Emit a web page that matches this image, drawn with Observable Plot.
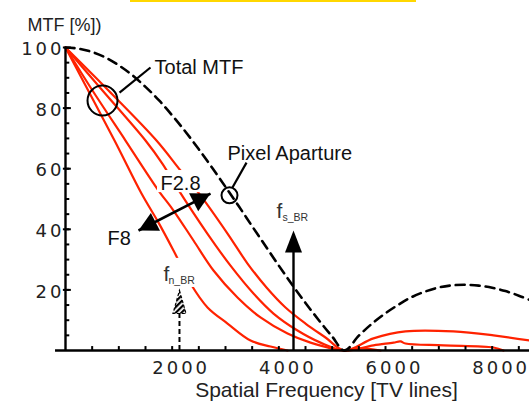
<!DOCTYPE html>
<html><head><meta charset="utf-8">
<script src="https://cdn.jsdelivr.net/npm/d3@7"></script>
<script src="https://cdn.jsdelivr.net/npm/@observablehq/plot@0.6"></script>
<style>
body{margin:0;background:#fff;}
#wrap{position:relative;width:529px;height:402px;overflow:hidden;}
#bar{position:absolute;left:130px;top:0;width:286px;height:2px;background:#ffd700;z-index:2;}
</style></head><body>
<div id="wrap"><div id="bar"></div><div id="chart"></div></div>
<script>
// Pixel aperture (dashed) MTF, %
const apFreq = [0,250,500,750,1000,1250,1500,1750,2000,2250,2500,2750,3000,3250,3500,3750,4000,4250,4500,4750,5000,5230,5500,5750,6000,6250,6500,6750,7000,7250,7500,7750,8000,8250,8500,8700];
const apMtf  = [100,99.6,98.5,96.7,94.1,90.9,87.0,82.6,77.6,72.2,66.4,60.3,54.0,47.6,41.0,34.5,28.0,21.7,15.7,10.0,4.6,0,4.9,8.9,12.3,15.2,17.7,19.5,20.8,21.5,21.7,21.4,20.7,19.6,18.1,16.7];

// Total MTF curves (red), one array pair per F-number
const seriesNames = ["F8","F5.6","F4","F2.8"];
const freqF8  = [0,919,1425,1744,2025,2344,2663,3038,3469,3844,4163];
const mtfF8   = [100,69.3,51.8,42.2,33.0,22.1,14.2,8.9,3.3,1.3,0];
const freqF56 = [0,506,1125,1744,2025,2400,2775,3225,3656,4163,4594,5231,5531,5906];
const mtfF56  = [100,85.8,69.3,52.8,46.2,36.3,26.4,17.5,10.9,5.6,2.6,0,0.7,0];
const freqF4  = [0,694,1500,1819,2100,2663,3094,3525,3900,4350,4781,5231,5775,6150,6281,6375,7088,8025,8213];
const mtfF4   = [100,85.8,69.3,61.6,53.5,38.5,28.0,18.8,12.2,6.6,2.6,0,1.7,2.6,3.0,2.3,1.7,1.0,0];
const freqF28 = [0,806,1706,2156,2531,3038,3413,3769,4125,4500,4875,5231,5775,6375,7275,8025,8700];
const mtfF28  = [100,85.8,69.3,59.4,51.2,38.6,28.7,20.8,14.2,8.9,4.3,0,4.0,6.3,6.3,5.0,3.3];

// Axis ticks
const xMajor = [2000,4000,6000,8000];
const xMinor = d3.range(500, 8700, 500);
const yMajor = [20,40,60,80,100];
const yMinor = d3.range(5, 100, 5);

// Annotations (data coordinates)
const noteText = ["Total MTF","Pixel Aparture","F2.8","F8"];
const noteFreq = [1669,3038,1781,788];
const noteMtf  = [91.1,63.0,53.1,34.7];
const circleFreq = [694,3075];
const circleMtf  = [82.5,51.2];
const circleR    = [15,8];
const calloutFreq1 = [1013,3131];
const calloutMtf1  = [85.1,53.8];
const calloutFreq2 = [1594,3394];
const calloutMtf2  = [93.4,62.0];
const boxF1 = [1725,731,1763];
const boxF2 = [2625,1294,2456];
const boxM1 = [52.1,33.0,20.8];
const boxM2 = [59.4,39.9,30.4];
const dblTipFreq = [1369,2719];
const dblTipMtf  = [39.6,51.8];
const dblRotate  = [-117.2,62.8];
const fsFreq = 4275, fsTip = 39.6;
const fnFreq = 2137, fnTip = 19.8, fnBase = 12.2;

const rows = [];
const src = [[freqF8,mtfF8],[freqF56,mtfF56],[freqF4,mtfF4],[freqF28,mtfF28]];
src.forEach(([fs,ms],i)=>fs.forEach((f,j)=>rows.push({s:seriesNames[i],f,m:ms[j]})));
const apRows = apFreq.map((f,i)=>({f,m:apMtf[i]}));
const notes = noteText.map((t,i)=>({t,f:noteFreq[i],m:noteMtf[i]}));
const circles = circleFreq.map((f,i)=>({f,m:circleMtf[i],r:circleR[i]}));
const callouts = calloutFreq1.map((f,i)=>({f1:f,m1:calloutMtf1[i],f2:calloutFreq2[i],m2:calloutMtf2[i]}));
const boxes = boxF1.map((f,i)=>({f1:f,f2:boxF2[i],m1:boxM1[i],m2:boxM2[i]}));
const dblHeads = dblTipFreq.map((f,i)=>({f,m:dblTipMtf[i],rot:dblRotate[i]}));

const head = (L,W)=>({draw(ctx){ctx.moveTo(0,0);ctx.lineTo(W,L);ctx.lineTo(-W,L);ctx.closePath();}});
const FONT = "Liberation Sans, Arial, Helvetica, sans-serif";
const TICKFONT = "DejaVu Sans, Verdana, sans-serif";
const RED = "#ff2200";

const chart = Plot.plot({
  width:529, height:402,
  marginTop:47, marginRight:0, marginBottom:52, marginLeft:65,
  x:{domain:[0,8700], axis:null},
  y:{domain:[0,100], axis:null},
  r:{type:"identity"},
  style:{fontFamily:FONT, background:"transparent", color:"#111", overflow:"visible"},
  marks:[
    Plot.line(rows,{x:"f",y:"m",z:"s",stroke:RED,strokeWidth:2.2,curve:"catmull-rom"}),
    Plot.line(apRows,{x:"f",y:"m",stroke:"black",strokeWidth:2.6,strokeDasharray:"9,6",curve:"catmull-rom"}),
    // axes
    Plot.ruleY([0],{x1:-187,x2:8700,stroke:"black",strokeWidth:2.4}),
    Plot.ruleX([0],{y1:0,y2:100,stroke:"black",strokeWidth:2.4}),
    Plot.ruleY(yMinor,{y:d=>d,x1:0,x2:80,stroke:"black",strokeWidth:2}),
    Plot.ruleY(yMajor,{y:d=>d,x1:-40,x2:110,stroke:"black",strokeWidth:2}),
    Plot.ruleX(xMinor,{x:d=>d,y1:0,y2:1.3,stroke:"black",strokeWidth:2}),
    // fs arrow
    Plot.ruleX([fsFreq],{x:d=>d,y1:0,y2:fsTip-5,stroke:"black",strokeWidth:2.4}),
    Plot.dot([fsFreq],{x:d=>d,y:()=>fsTip,symbol:head(22,8.5),fill:"black",stroke:"none"}),
    // fn arrow
    Plot.ruleX([fnFreq],{x:d=>d,y1:0,y2:fnBase,stroke:"black",strokeWidth:2,strokeDasharray:"5,3"}),
    Plot.dot([fnFreq],{x:d=>d,y:()=>fnTip,symbol:head(23,6.5),fill:"url(#hatch)",stroke:"black",strokeWidth:1.2,strokeDasharray:"3,2"}),
    // double arrow
    Plot.link([0],{x1:()=>dblTipFreq[0],y1:()=>dblTipMtf[0],x2:()=>dblTipFreq[1],y2:()=>dblTipMtf[1],stroke:"black",strokeWidth:2.6}),
    Plot.dot(dblHeads,{x:"f",y:"m",rotate:"rot",symbol:head(19,10),fill:"black",stroke:"none"}),
    // label boxes
    Plot.rect(boxes,{x1:"f1",x2:"f2",y1:"m1",y2:"m2",fill:"white"}),
    // callouts
    Plot.dot(circles,{x:"f",y:"m",r:"r",stroke:"black",strokeWidth:2,fill:"none"}),
    Plot.link(callouts,{x1:"f1",y1:"m1",x2:"f2",y2:"m2",stroke:"black",strokeWidth:2.2}),
    Plot.text(notes,{x:"f",y:"m",text:"t",textAnchor:"start",lineAnchor:"bottom",fontSize:20}),
    // f_s_BR and f_n_BR labels
    Plot.text(["f"],{x:()=>3956,y:()=>43.6,text:d=>d,textAnchor:"start",lineAnchor:"bottom",fontSize:21,fill:"#333"}),
    Plot.text(["s_BR"],{x:()=>4069,y:()=>42.6,text:d=>d,textAnchor:"start",lineAnchor:"bottom",fontSize:10.5,fill:"#333"}),
    Plot.text(["f"],{x:()=>1838,y:()=>23.1,text:d=>d,textAnchor:"start",lineAnchor:"bottom",fontSize:21,fill:"#333"}),
    Plot.text(["n_BR"],{x:()=>1931,y:()=>22.1,text:d=>d,textAnchor:"start",lineAnchor:"bottom",fontSize:10.5,fill:"#333"}),
    // tick labels
    Plot.text(yMajor,{y:d=>d,text:d=>String(d),frameAnchor:"left",textAnchor:"end",dx:-1,dy:2,fontSize:18,fontFamily:TICKFONT,fill:"#222"}),
    Plot.text(xMajor,{x:d=>d,text:d=>String(d),frameAnchor:"bottom",lineAnchor:"bottom",dx:9,dy:23,fontSize:18,fontFamily:TICKFONT,fill:"#222"}),
    // axis titles
    Plot.text(["Spatial Frequency [TV lines]"],{text:d=>d,frameAnchor:"bottom",lineAnchor:"bottom",dx:29,dy:46,fontSize:21,fill:"#222"}),
    Plot.text(["MTF [%])"],{text:d=>d,frameAnchor:"top-left",textAnchor:"start",lineAnchor:"bottom",dx:-38,dy:-17,fontSize:18,fill:"#222"})
  ]
});
const ns="http://www.w3.org/2000/svg";
const defs=document.createElementNS(ns,"defs");
defs.innerHTML='<pattern id="hatch" patternUnits="userSpaceOnUse" width="4" height="4" patternTransform="rotate(45)"><rect width="2.2" height="4" fill="black"/></pattern>';
chart.insertBefore(defs, chart.firstChild);
chart.querySelectorAll("text").forEach(t=>{ if(/^\d+$/.test(t.textContent)) t.style.letterSpacing="3px"; });
document.getElementById("chart").appendChild(chart);
</script>
</body></html>
